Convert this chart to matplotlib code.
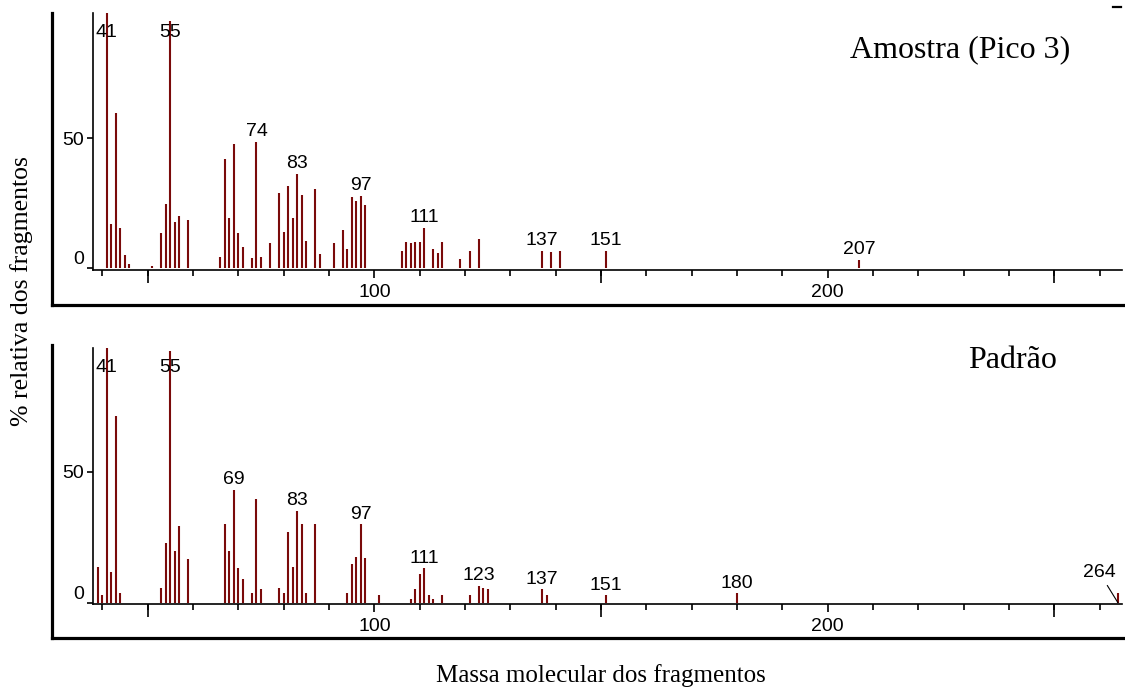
import matplotlib
matplotlib.use("Agg")
import matplotlib.pyplot as plt
from matplotlib.ticker import MultipleLocator, NullFormatter
from matplotlib.lines import Line2D

# amostra (pico 3)
top_mz = [41, 42, 43, 44, 45, 46, 51, 53, 54, 55, 56, 57, 59,
          66, 67, 68, 69, 70, 71, 73, 74, 75,
          77, 79, 80, 81, 82, 83, 84, 85, 87, 88,
          91, 93, 94, 95, 96, 97, 98,
          106, 107, 108, 109, 110, 111, 113, 114, 115,
          119, 121, 123, 137, 139, 141, 151, 207]
top_int = [100, 17.0, 59.6, 15.6, 5.1, 1.5, 0.8, 13.5, 24.6, 95, 17.9, 20.1, 18.6,
           4.5, 42, 19.2, 47.8, 13.5, 8.3, 3.8, 48.7, 4.5,
           9.6, 28.8, 14.1, 31.8, 19.2, 36.3, 28.1, 10.5, 30.4, 5.4,
           9.6, 14.7, 7.4, 27.3, 25.9, 27.9, 24.3,
           6.8, 10.2, 9.6, 10.2, 10.2, 15.6, 7.4, 6.0, 10.2,
           3.7, 6.8, 11.2, 6.8, 6.2, 6.8, 6.8, 3.2]
top_labels = [41, 55, 74, 83, 97, 111, 137, 151, 207]

# padrao
bot_mz = [39, 40, 41, 42, 43, 44, 53, 54, 55, 56, 57, 59,
          67, 68, 69, 70, 71, 73, 74, 75,
          79, 80, 81, 82, 83, 84, 85, 87,
          94, 95, 96, 97, 98, 101,
          108, 109, 110, 111, 112, 113, 115,
          121, 123, 124, 125, 137, 138, 151, 180, 264]
bot_int = [13.7, 2.9, 100, 11.6, 71.4, 3.6, 5.7, 22.7, 96, 19.7, 29.3, 16.7,
           30.0, 19.7, 43.0, 13.1, 8.9, 3.6, 39.5, 5.1,
           5.7, 3.6, 26.9, 13.7, 35.0, 29.9, 3.6, 29.9,
           3.6, 14.7, 17.6, 29.9, 16.9, 2.9,
           1.4, 5.2, 10.8, 13.1, 2.9, 1.4, 2.9,
           2.9, 6.5, 5.7, 5.1, 5.1, 2.9, 2.9, 3.6, 3.6]
bot_labels = [41, 55, 69, 83, 97, 111, 123, 137, 151, 180]

W, H = 1125, 688
SANS = "Liberation Sans"
SERIF = "Liberation Serif"
NUM_SIZE = 14

fig = plt.figure(figsize=(W / 100, H / 100), dpi=100)


def rect(x0, y0, x1, y1):
    # pixel box -> figure fraction
    return [x0 / W, 1 - y1 / H, (x1 - x0) / W, (y1 - y0) / H]


def panel(frame_box, spec_box, mz, inten, labels, ylim):
    fr = fig.add_axes(rect(*frame_box))
    fr.set_xticks([])
    fr.set_yticks([])
    fr.patch.set_visible(False)
    for s in ["top", "right"]:
        fr.spines[s].set_visible(False)
    for s in ["left", "bottom"]:
        fr.spines[s].set_linewidth(2.3)

    ax = fig.add_axes(rect(*spec_box))
    ax.patch.set_visible(False)
    ax.vlines(mz, 0, inten, color="#7a0a0a", lw=1.5)
    ax.set_xlim(37.95, 264.9)
    ax.set_ylim(*ylim)
    for s in ["top", "right"]:
        ax.spines[s].set_visible(False)
    for s in ["left", "bottom"]:
        ax.spines[s].set_linewidth(1.2)

    ax.set_xticks([100, 200])
    ax.xaxis.set_minor_locator(MultipleLocator(10))
    ax.xaxis.set_minor_formatter(NullFormatter())
    ax.tick_params(axis="x", which="major", length=6, width=1.2, pad=4,
                   labelsize=NUM_SIZE, labelfontfamily=SANS)
    ax.tick_params(axis="x", which="minor", length=4, width=1.2)
    ax.set_yticks([0, 50])
    ax.tick_params(axis="y", length=4.5, width=1.2, pad=2,
                   labelsize=NUM_SIZE, labelfontfamily=SANS)
    ax.get_yticklabels()[0].set_verticalalignment("bottom")

    sec = ax.secondary_xaxis("bottom")
    sec.set_xticks([50, 150, 250])
    sec.set_xticklabels([])
    sec.tick_params(length=9.5, width=1.2)
    sec.spines["bottom"].set_visible(False)

    ytop = ylim[1]
    for m in labels:
        v = inten[mz.index(m)]
        if v >= ytop - 8:
            # base peaks run off the top, label sits just under the top edge
            ax.annotate(str(m), (m, ytop), xytext=(0, -17), textcoords="offset points",
                        ha="center", va="baseline", fontsize=NUM_SIZE, family=SANS)
        else:
            ax.annotate(str(m), (m, v), xytext=(0, 4), textcoords="offset points",
                        ha="center", va="baseline", fontsize=NUM_SIZE, family=SANS)
    return ax


ax1 = panel((52, 13, 1125, 305), (93, 13, 1122, 270), top_mz, top_int, top_labels, (-0.65, 98.2))
ax2 = panel((52, 345, 1125, 638), (93, 348, 1122, 604), bot_mz, bot_int, bot_labels, (-0.5, 97.2))

ax2.annotate("264", (264, 0), xytext=(-13.2, 21.4), textcoords="offset points",
             ha="center", va="center", fontsize=NUM_SIZE, family=SANS,
             arrowprops=dict(arrowstyle="-", lw=0.8, color="black", shrinkA=1, shrinkB=0))

fig.text(1070 / W, 1 - 50 / H, "Amostra (Pico 3)", ha="right", va="center",
         fontsize=23, family=SERIF)
fig.text(1057 / W, 1 - 360 / H, "Padrão", ha="right", va="center",
         fontsize=23, family=SERIF)
fig.text(601 / W, 1 - 676 / H, "Massa molecular dos fragmentos", ha="center", va="center",
         fontsize=18, family=SERIF)
fig.text(22 / W, 1 - 291 / H, "% relativa dos fragmentos", ha="center", va="center",
         rotation=90, fontsize=18.5, family=SERIF)

# small mark at the top right corner of the original
fig.add_artist(Line2D([1113 / W, 1121 / W], [1 - 6.5 / H, 1 - 6.5 / H], lw=1.6, color="black"))

fig.savefig("out.png", dpi=100)
